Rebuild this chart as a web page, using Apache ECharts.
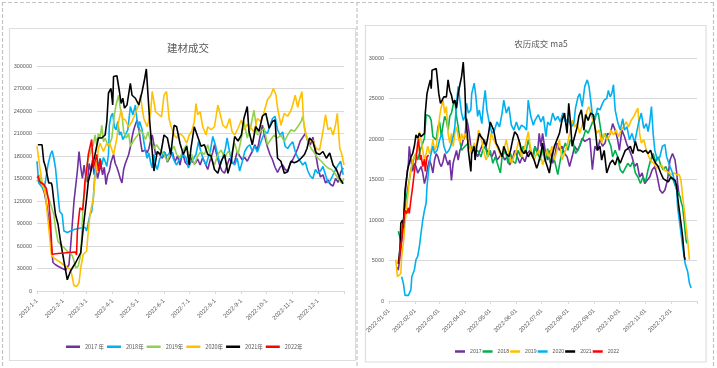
<!DOCTYPE html>
<html><head><meta charset="utf-8">
<script src="https://cdn.jsdelivr.net/npm/echarts@6/dist/echarts.min.js"></script>
<style>html,body{margin:0;padding:0;background:#fff}#c{width:717px;height:368px}</style>
</head><body><div id="c"></div>
<script>
// ---- tick labels / categories ----
const monthStartDay = [0,31,59,90,120,151,181,212,243,273,304,334];
const xTicksL = ['2022-1-1','2022-2-1','2022-3-1','2022-4-1','2022-5-1','2022-6-1','2022-7-1','2022-8-1','2022-9-1','2022-10-1','2022-11-1','2022-12-1'];
const xTicksR = ['2022-01-01','2022-02-01','2022-03-01','2022-04-01','2022-05-01','2022-06-01','2022-07-01','2022-08-01','2022-09-01','2022-10-01','2022-11-01','2022-12-01'];
const legendL = ['2017 年','2018年','2019年','2020年','2021年','2022年'];
const legendR = ['2017','2018','2019','2020','2021','2022'];

// ---- 建材成交 : [day of year, value in thousands] ----
const jc2017 = [[0,152],[3,148],[6,140],[9,130],[12,112],[15,88],[17,60],[19,38],[22,35],[25,33],[30,30],[34,28],[36,27],[38,35],[40,60],[42,90],[44,120],[46,140],[48,160],[50,186],[52,165],[54,150],[56,168],[58,152],[60,145],[62,170],[64,160],[66,175],[68,155],[70,165],[72,150],[74,160],[76,168],[78,155],[80,165],[82,142],[84,155],[86,160],[88,172],[91,182],[93,170],[95,165],[97,158],[99,150],[101,144],[103,162],[105,170],[107,168],[109,182],[111,192],[113,205],[115,215],[117,222],[119,228],[121,218],[123,200],[125,186],[127,184],[129,188],[131,184],[133,190],[135,200],[137,208],[139,195],[141,182],[144,185],[147,180],[149,177],[152,185],[155,172],[158,178],[161,185],[164,172],[167,180],[170,168],[173,185],[176,172],[179,168],[182,182],[185,172],[188,170],[191,176],[194,168],[197,178],[200,170],[203,162],[206,175],[209,185],[211,195],[214,180],[217,168],[220,160],[223,157],[226,168],[229,177],[232,170],[235,172],[238,186],[241,180],[244,175],[247,178],[250,173],[253,180],[256,186],[259,195],[262,188],[265,205],[268,221],[271,205],[274,192],[277,182],[280,175],[283,165],[286,158],[289,165],[292,168],[295,162],[298,160],[301,170],[304,175],[307,182],[310,190],[313,200],[316,205],[319,210],[322,200],[325,195],[328,205],[331,185],[334,165],[337,152],[340,155],[343,144],[346,148],[349,142],[352,140],[355,150],[358,145],[361,158],[364,164]];
const jc2018 = [[0,173],[2,144],[5,140],[8,135],[10,146],[13,168],[16,182],[18,187],[20,177],[22,164],[25,128],[27,106],[30,102],[32,80],[36,78],[44,82],[52,84],[57,85],[59,80],[61,91],[63,102],[65,106],[67,124],[69,160],[71,173],[73,168],[75,177],[77,168],[79,178],[81,173],[83,166],[85,182],[86,221],[88,233],[90,237],[92,219],[94,215],[96,226],[98,208],[100,212],[102,202],[105,208],[108,215],[111,246],[114,235],[117,248],[120,217],[122,226],[125,215],[127,199],[129,186],[131,177],[133,184],[135,172],[137,164],[139,182],[141,168],[143,162],[146,177],[149,180],[151,186],[154,180],[157,183],[159,190],[162,177],[164,172],[166,168],[169,175],[172,178],[174,182],[177,178],[180,164],[183,172],[186,176],[189,182],[192,199],[195,185],[198,175],[201,168],[204,180],[206,186],[209,206],[212,195],[215,180],[218,168],[221,178],[224,190],[226,204],[229,185],[232,172],[235,168],[238,177],[241,160],[244,172],[247,186],[250,192],[253,195],[256,186],[259,193],[262,185],[265,195],[268,204],[271,213],[274,210],[277,221],[280,230],[283,233],[286,215],[289,208],[292,212],[295,193],[298,190],[301,195],[304,199],[307,186],[310,178],[313,173],[316,168],[319,172],[322,160],[325,153],[328,150],[331,162],[334,157],[337,160],[340,166],[343,155],[346,144],[349,148],[352,155],[355,162],[358,168],[361,173],[364,155]];
const jc2019 = [[0,146],[3,155],[6,140],[9,137],[12,128],[15,120],[17,113],[20,102],[22,84],[25,66],[28,62],[32,58],[36,53],[40,50],[42,47],[44,40],[46,31],[49,33],[52,49],[53,70],[55,120],[57,133],[59,164],[61,177],[63,182],[65,190],[67,195],[69,208],[71,195],[73,210],[75,204],[77,221],[79,199],[81,204],[83,198],[85,193],[87,198],[89,204],[92,235],[94,248],[97,261],[99,244],[101,235],[103,213],[106,204],[109,210],[111,193],[114,199],[117,204],[120,208],[123,215],[126,210],[129,202],[132,212],[135,200],[139,190],[142,195],[145,190],[148,186],[151,182],[155,173],[159,186],[163,193],[166,182],[170,178],[174,188],[178,195],[181,173],[184,182],[187,168],[191,180],[195,186],[199,182],[203,195],[207,177],[211,168],[215,182],[219,188],[223,177],[227,186],[231,182],[235,197],[239,182],[243,204],[246,226],[250,204],[254,219],[258,241],[262,208],[266,213],[270,217],[274,195],[278,202],[282,208],[286,204],[290,208],[294,199],[298,208],[302,215],[306,213],[310,219],[314,226],[316,233],[318,217],[322,199],[326,190],[330,184],[334,177],[338,173],[342,168],[346,164],[350,162],[354,157],[358,150],[362,144],[365,150]];
const jc2020 = [[0,193],[2,193],[4,160],[6,146],[10,128],[12,106],[14,84],[17,49],[20,44],[28,38],[36,31],[40,29],[42,18],[44,7],[47,6],[50,11],[52,31],[55,49],[59,53],[61,80],[63,102],[67,124],[69,151],[71,168],[73,190],[75,197],[79,186],[83,197],[87,195],[91,182],[95,204],[97,226],[100,241],[102,230],[105,228],[109,219],[113,226],[117,237],[121,248],[123,261],[125,244],[127,230],[131,219],[135,237],[137,266],[139,268],[141,239],[145,235],[148,232],[151,261],[154,266],[157,230],[159,221],[163,208],[166,204],[170,210],[174,206],[178,197],[181,208],[184,213],[187,226],[189,250],[191,235],[194,239],[197,219],[201,208],[203,219],[207,215],[211,219],[215,248],[218,235],[221,221],[225,217],[229,230],[232,212],[235,208],[239,217],[243,228],[246,215],[250,222],[254,218],[258,212],[262,230],[266,226],[270,239],[274,255],[278,261],[281,270],[284,262],[286,244],[290,221],[294,237],[298,233],[302,241],[304,248],[307,261],[310,245],[312,255],[315,266],[317,226],[320,206],[324,199],[328,201],[332,190],[336,188],[340,213],[343,235],[346,215],[349,218],[352,208],[355,222],[357,237],[360,190],[362,184],[365,168]];
const jc2021 = [[1,195],[3,195],[6,195],[8,173],[10,166],[12,155],[14,144],[17,144],[18,140],[20,120],[22,102],[25,89],[28,66],[32,40],[36,15],[40,27],[46,38],[52,51],[55,84],[57,104],[59,124],[61,146],[65,164],[69,182],[73,204],[77,204],[81,208],[83,226],[85,264],[88,270],[90,248],[91,286],[95,287],[98,266],[100,250],[102,257],[104,244],[107,248],[111,277],[113,261],[117,257],[121,248],[125,266],[128,283],[130,296],[132,261],[134,226],[136,199],[139,160],[143,186],[147,182],[151,208],[155,204],[159,182],[163,221],[166,219],[170,197],[174,182],[178,193],[181,168],[183,190],[187,219],[191,206],[195,193],[199,195],[203,182],[207,180],[211,162],[215,157],[219,173],[223,182],[227,157],[231,173],[235,206],[239,200],[243,208],[246,230],[250,246],[252,213],[256,195],[260,219],[264,213],[268,233],[272,237],[276,217],[280,226],[283,228],[286,177],[290,173],[294,157],[298,159],[302,173],[306,171],[310,173],[314,177],[318,182],[321,190],[324,204],[328,199],[332,184],[336,182],[340,186],[344,177],[348,184],[352,168],[356,162],[360,150],[364,143]];
const jc2022 = [[1,154],[3,146],[8,142],[11,137],[14,120],[16,93],[18,49],[25,50],[35,51],[46,52],[47,48],[48,80],[51,111],[54,108],[55,115],[57,146],[59,160],[61,182],[65,202],[67,164],[71,182],[73,160],[75,176],[77,162]];

// ---- 农历成交 ma5 : [day of year, value in thousands] ----
const nl2017 = [[10,4.2],[11,3.8],[14,6.3],[17,9.6],[19,12.9],[21,15.3],[23,17.0],[24,19.1],[26,17.4],[28,16.0],[30,17.0],[32,16.6],[34,15.8],[36,16.2],[38,16.6],[40,15.8],[42,14.5],[44,15.3],[46,16.6],[48,17.4],[50,16.8],[52,15.8],[54,17.4],[56,18.2],[58,17.8],[60,17.0],[62,16.6],[64,17.2],[66,18.2],[68,17.4],[70,16.8],[72,17.4],[74,14.9],[76,17.0],[78,17.8],[80,18.6],[82,17.4],[84,18.6],[86,19.1],[88,19.9],[90,20.3],[92,22.5],[94,21.5],[96,19.9],[98,18.2],[100,19.1],[102,18.6],[105,17.8],[108,18.6],[110,19.1],[113,19.9],[116,18.6],[119,18.2],[122,17.8],[125,18.6],[128,17.4],[131,17.8],[134,18.2],[137,17.4],[140,17.8],[143,16.8],[146,17.4],[149,18.6],[152,17.8],[155,17.0],[158,17.8],[161,17.2],[164,18.2],[167,18.6],[170,17.8],[173,19.1],[176,18.2],[178,20.7],[180,19.1],[182,20.7],[185,18.6],[188,17.4],[191,18.6],[194,17.0],[197,18.2],[199,19.5],[202,18.6],[205,19.1],[208,18.2],[211,17.8],[214,16.6],[217,17.8],[220,19.1],[223,18.6],[226,19.1],[229,20.1],[232,19.7],[235,19.9],[238,20.1],[241,16.2],[244,19.1],[247,18.6],[250,19.9],[253,19.1],[256,19.5],[259,20.7],[262,20.5],[265,21.9],[268,21.1],[271,19.9],[273,18.6],[276,21.1],[279,20.3],[282,19.3],[285,18.6],[288,17.8],[291,16.6],[294,17.0],[297,15.3],[300,15.8],[303,14.5],[306,14.9],[309,15.3],[312,16.2],[315,16.6],[318,15.3],[321,13.7],[324,13.3],[327,13.7],[330,14.9],[333,17.4],[336,18.2],[339,17.4],[341,15.8],[342,14.5],[344,12.9]];
const nl2018 = [[11,8.6],[13,8.4],[14,7.5],[16,9.2],[18,10.8],[20,12.5],[22,13.7],[24,14.9],[26,16.2],[28,17.0],[30,17.8],[32,18.2],[34,17.4],[37,18.6],[40,19.5],[42,20.1],[44,23.0],[46,23.2],[48,22.8],[50,22.3],[52,20.3],[54,20.5],[56,19.9],[58,21.5],[60,22.1],[62,20.3],[64,21.7],[66,22.8],[68,22.3],[70,21.1],[72,22.8],[74,23.2],[76,24.2],[78,24.8],[80,22.8],[82,21.5],[84,19.9],[86,18.6],[90,19.1],[94,19.5],[97,18.6],[100,19.1],[102,18.2],[105,18.6],[109,17.8],[111,18.6],[114,19.1],[117,17.8],[120,18.6],[123,17.0],[126,17.8],[129,16.8],[132,15.8],[134,17.8],[138,18.6],[141,17.0],[144,18.2],[147,17.2],[150,17.0],[153,18.6],[156,17.8],[159,19.1],[162,18.2],[165,19.9],[168,18.6],[171,17.6],[173,19.1],[176,18.2],[180,17.4],[182,19.1],[185,17.2],[188,18.8],[191,17.0],[194,18.2],[197,17.0],[200,15.6],[203,17.4],[206,18.6],[209,19.5],[212,18.6],[215,19.9],[218,19.7],[221,18.2],[224,18.6],[227,19.5],[230,20.1],[233,21.1],[236,20.7],[239,21.5],[242,22.3],[245,23.0],[248,23.2],[251,21.1],[253,19.9],[256,20.7],[260,19.9],[263,19.1],[265,17.8],[268,18.6],[271,17.8],[274,16.2],[277,15.8],[280,16.4],[283,17.0],[286,16.6],[289,17.2],[292,15.8],[295,15.3],[298,14.5],[301,15.3],[304,14.7],[307,16.2],[310,17.4],[313,18.2],[316,17.2],[319,17.8],[322,16.8],[325,16.2],[328,16.6],[331,15.8],[334,15.3],[337,14.9],[339,14.7],[341,13.7],[343,13.3],[345,12.9],[346,12.3],[348,11.6],[350,9.6],[352,7.5],[353,7.1]];
const nl2019 = [[8,5.1],[10,3.0],[12,3.0],[14,3.4],[15,5.5],[17,7.1],[19,9.6],[21,11.6],[23,13.7],[24,14.9],[26,16.2],[28,17.4],[30,17.8],[32,18.2],[34,18.6],[36,20.9],[38,19.9],[40,18.6],[42,17.4],[44,18.2],[46,19.1],[48,18.2],[50,18.6],[52,19.9],[54,18.6],[56,19.1],[58,20.7],[60,22.8],[62,24.0],[64,24.8],[66,23.2],[68,24.0],[70,20.7],[72,19.5],[74,20.7],[76,19.1],[78,20.7],[80,21.5],[82,20.3],[84,19.5],[86,20.7],[88,19.9],[90,20.7],[93,19.9],[96,19.1],[98,18.2],[101,19.5],[103,18.6],[106,21.1],[109,20.3],[112,18.6],[115,17.4],[118,18.2],[121,20.7],[124,19.9],[127,19.3],[130,18.6],[133,17.8],[136,18.6],[139,19.9],[142,18.2],[145,17.0],[148,17.8],[151,18.6],[154,19.9],[157,17.8],[160,18.6],[163,19.9],[165,20.9],[168,18.6],[172,17.4],[175,18.2],[178,18.6],[181,17.4],[182,16.8],[184,17.4],[187,18.6],[190,17.8],[193,19.1],[196,17.4],[199,18.6],[202,19.9],[205,17.4],[208,18.2],[211,19.1],[214,20.7],[217,22.3],[220,21.5],[223,21.9],[226,20.7],[229,21.7],[232,22.3],[235,23.6],[237,24.0],[240,22.8],[243,21.9],[246,20.7],[249,21.1],[252,19.5],[255,20.7],[258,19.9],[261,20.3],[263,21.1],[266,20.5],[269,21.1],[272,20.3],[275,21.1],[278,21.5],[281,22.1],[284,21.5],[287,22.3],[290,22.8],[293,23.4],[295,23.8],[297,20.7],[299,19.5],[302,19.9],[305,18.6],[308,17.8],[311,17.2],[314,17.0],[317,16.4],[320,16.6],[323,16.8],[326,16.2],[329,16.0],[332,15.8],[335,15.6],[338,15.8],[341,15.6],[344,15.6],[346,14.9],[348,12.9],[350,11.2],[352,9.2],[354,7.5],[356,5.1]];
const nl2020 = [[15,3.0],[17,2.2],[19,0.7],[21,0.6],[23,0.7],[26,1.4],[27,3.0],[30,3.8],[32,5.1],[34,5.5],[36,6.7],[38,8.4],[40,10.0],[42,11.2],[44,12.1],[45,14.1],[47,16.2],[49,17.8],[52,19.1],[54,18.2],[57,18.6],[60,19.9],[63,20.7],[65,19.1],[68,18.2],[71,18.6],[73,19.1],[76,20.3],[78,21.5],[80,24.4],[82,26.5],[84,24.8],[86,23.2],[88,22.3],[90,22.8],[92,24.4],[94,23.2],[97,23.6],[98,25.6],[101,26.9],[103,25.2],[105,22.8],[107,23.6],[110,21.9],[112,24.4],[114,26.0],[116,23.6],[119,21.9],[122,20.7],[125,21.1],[128,22.1],[131,21.5],[134,23.2],[136,24.8],[139,23.2],[142,24.0],[145,21.7],[148,21.1],[151,22.1],[154,21.1],[157,21.7],[160,21.5],[163,21.1],[165,24.8],[168,22.8],[171,21.7],[173,22.3],[177,23.0],[180,22.1],[183,22.8],[186,20.3],[188,22.1],[191,21.7],[194,23.2],[197,22.3],[200,22.8],[203,22.1],[206,23.2],[209,22.1],[212,22.5],[216,21.5],[219,21.9],[221,23.8],[224,25.2],[226,25.6],[229,24.0],[232,26.5],[235,27.3],[237,26.5],[239,24.8],[241,23.0],[244,22.3],[247,23.8],[250,23.6],[253,24.4],[255,24.8],[258,25.0],[260,26.0],[262,25.2],[264,25.6],[266,26.7],[268,23.6],[271,22.1],[274,21.1],[277,22.5],[279,21.1],[282,21.5],[285,19.9],[288,20.7],[291,19.5],[294,21.1],[296,22.1],[299,23.2],[302,21.3],[305,21.9],[307,20.9],[309,22.1],[311,24.0],[313,20.7],[315,18.6],[318,17.4],[321,17.8],[324,19.1],[327,19.3],[329,17.8],[333,16.6],[336,15.8],[339,14.5],[341,13.7],[342,11.6],[344,10.0],[346,8.4],[348,6.7],[351,4.6],[354,3.6],[356,2.2],[358,1.6]];
const nl2021 = [[11,4.6],[13,6.5],[14,9.6],[16,10.0],[17,9.0],[18,11.2],[19,13.7],[21,15.3],[22,16.2],[24,17.0],[26,17.8],[28,18.2],[30,19.1],[32,20.5],[34,20.1],[36,20.7],[38,20.3],[40,20.1],[42,20.7],[43,23.2],[45,25.6],[47,26.5],[49,27.3],[50,26.2],[51,28.5],[53,28.5],[56,28.7],[57,27.7],[59,25.6],[61,24.4],[63,24.8],[65,25.2],[68,25.2],[70,27.3],[72,26.0],[74,25.4],[76,24.4],[78,24.8],[80,23.8],[82,25.6],[84,26.7],[86,27.7],[88,29.5],[90,26.0],[91,22.8],[93,20.3],[94,18.6],[97,16.0],[98,18.2],[101,19.1],[102,17.4],[104,19.1],[107,20.7],[109,20.3],[112,19.9],[115,19.1],[118,20.7],[120,22.1],[122,21.9],[124,21.1],[127,19.5],[129,19.1],[131,18.6],[134,17.8],[136,19.1],[139,18.2],[142,17.8],[144,18.6],[147,20.1],[149,20.9],[152,20.5],[155,19.5],[157,18.6],[160,18.2],[162,18.6],[165,17.8],[168,18.4],[172,17.4],[175,16.4],[177,17.0],[180,18.2],[182,19.5],[185,17.4],[187,16.8],[190,15.8],[193,17.8],[196,19.1],[199,19.9],[202,20.7],[205,22.3],[208,23.2],[211,20.7],[213,24.4],[215,22.1],[217,19.1],[220,20.3],[223,21.5],[225,22.8],[228,23.6],[231,21.1],[233,23.0],[236,22.3],[239,23.2],[242,23.0],[245,20.7],[247,18.6],[250,19.1],[252,17.4],[255,18.6],[258,15.8],[260,16.0],[262,17.0],[265,17.4],[268,16.8],[271,17.8],[274,17.0],[277,17.8],[280,18.6],[283,18.8],[286,19.1],[289,18.2],[292,19.7],[295,18.6],[298,18.6],[301,18.4],[304,18.6],[307,18.2],[310,18.6],[313,17.6],[316,17.0],[319,16.6],[322,15.8],[325,15.1],[328,14.9],[331,14.7],[334,15.3],[336,15.1],[339,14.9],[341,14.1],[342,12.9],[344,11.2],[346,9.6],[348,7.9],[350,5.5],[351,5.1]];
const nl2022 = [[12,4.6],[13,6.3],[15,7.5],[17,9.6],[19,11.2],[21,10.8],[23,11.5],[24,10.8],[26,12.5],[28,14.1],[30,15.8],[32,17.5],[34,19.5],[35,20.0],[37,17.4],[38,18.0],[40,16.6],[42,17.5],[43,16.0],[45,17.8],[47,18.0]];

const colorsL = ['#7030A0','#00B0F0','#92D050','#FFC000','#000000','#FF0000'];
const colorsR = ['#7030A0','#00B050','#FFC000','#00B0F0','#000000','#FF0000'];

// ---- build ----
const cats = [];
for (let i = 0; i <= 365; i++) {
  const k = monthStartDay.indexOf(i);
  cats.push(k >= 0 ? String(k) : 'd' + i);
}
const isMonth = i => monthStartDay.indexOf(i) >= 0;
const gray = '#595959';
const fontAx = 'Liberation Sans';

function mk(name, data, color, idx) {
  return {
    name, type: 'line', xAxisIndex: idx, yAxisIndex: idx,
    data: data.map(p => [p[0], Math.round(p[1] * 1000)]),
    showSymbol: false, symbol: 'none', smooth: false,
    lineStyle: { color, width: 1.6 }, itemStyle: { color },
    emphasis: { disabled: true }
  };
}
function xAx(idx, grid, labels) {
  return {
    type: 'category', gridIndex: grid, data: cats, boundaryGap: false,
    axisLine: { show: true, lineStyle: { color: '#d9d9d9', width: 1 } },
    axisTick: { show: true, length: 3, interval: (i) => isMonth(i) || i === 365, lineStyle: { color: '#d9d9d9' } },
    axisLabel: {
      interval: (i) => isMonth(i), rotate: 45, margin: 9,
      formatter: (v) => labels[+v] !== undefined ? labels[+v] : '',
      fontSize: 6, color: gray, fontFamily: fontAx
    },
    splitLine: { show: false }
  };
}
function yAx(grid, max, step, size) {
  return {
    type: 'value', gridIndex: grid, min: 0, max, interval: step,
    axisLine: { show: false }, axisTick: { show: false },
    axisLabel: { fontSize: size, color: gray, fontFamily: fontAx, margin: 5, formatter: (v) => String(v) },
    splitLine: { lineStyle: { color: '#d9d9d9', width: 1 } }
  };
}

const seriesL = [jc2017, jc2018, jc2019, jc2020, jc2021, jc2022].map((d, i) => mk(legendL[i], d, colorsL[i], 0));
const seriesR = [nl2017, nl2018, nl2019, nl2020, nl2021, nl2022].map((d, i) => mk(legendR[i], d, colorsR[i], 1));

const dash = { stroke: '#c4c4c4', lineWidth: 1.2, lineDash: [4, 2] };
const chart = echarts.init(document.getElementById('c'), null, { renderer: 'canvas' });
chart.setOption({
  animation: false,
  backgroundColor: '#fff',
  title: [
    { text: '建材成交', left: 183, top: 38, textAlign: 'center',
      textStyle: { fontSize: 10.5, fontWeight: 'normal', color: gray, fontFamily: 'Noto Sans CJK SC' } },
    { text: '农历成交 ma5', left: 536, top: 35, textAlign: 'center',
      textStyle: { fontSize: 8.5, fontWeight: 'normal', color: gray, fontFamily: 'Noto Sans CJK SC' } }
  ],
  legend: [
    { data: legendL, left: 61, top: 339, icon: 'rect', itemWidth: 14, itemHeight: 2.5, itemGap: 3,
      textStyle: { fontSize: 5.5, color: gray, fontFamily: 'Noto Sans CJK SC' }, selectedMode: false },
    { data: legendR, left: 450, top: 344, icon: 'rect', itemWidth: 10, itemHeight: 2.5, itemGap: 1,
      textStyle: { fontSize: 5.2, color: gray, fontFamily: fontAx }, selectedMode: false }
  ],
  grid: [
    { left: 37, top: 66, width: 307, height: 225, containLabel: false },
    { left: 389, top: 58, width: 308, height: 243, containLabel: false }
  ],
  xAxis: [xAx(0, 0, xTicksL), xAx(1, 1, xTicksR)],
  yAxis: [yAx(0, 300000, 30000, 5.5), yAx(1, 30000, 5000, 5.5)],
  series: seriesL.concat(seriesR),
  graphic: [
    { type: 'rect', z: -10, shape: { x: 9.5, y: 28.5, width: 346, height: 332 }, style: { fill: 'none', stroke: '#dedede', lineWidth: 1.2 } },
    { type: 'rect', z: -10, shape: { x: 365.5, y: 25.5, width: 340.5, height: 336.5 }, style: { fill: 'none', stroke: '#dedede', lineWidth: 1.2 } },
    { type: 'line', z: -10, shape: { x1: 2, y1: 2.5, x2: 714, y2: 2.5 }, style: dash },
    { type: 'line', z: -10, shape: { x1: 2.5, y1: 2, x2: 2.5, y2: 368 }, style: dash },
    { type: 'line', z: -10, shape: { x1: 357, y1: 2, x2: 357, y2: 368 }, style: dash },
    { type: 'line', z: -10, shape: { x1: 713.5, y1: 2, x2: 713.5, y2: 368 }, style: dash }
  ]
});
</script></body></html>
